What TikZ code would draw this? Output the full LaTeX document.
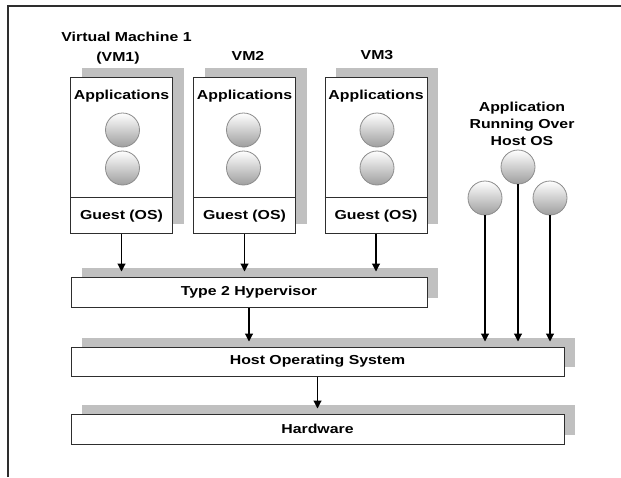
\documentclass[tikz,border=0pt]{standalone}
\usepackage{fontspec}
\setmainfont{Liberation Sans}[FakeStretch=1.22]
\usepackage{tikz}
\usetikzlibrary{arrows.meta,shadows,positioning,calc}
\definecolor{shadowgray}{HTML}{C0C0C0}
\definecolor{boxline}{HTML}{2E2E2E}

\begin{document}
\begin{tikzpicture}[x=1pt,y=-1pt,
lbl/.style={font=\fontsize{13}{17}\selectfont\bfseries, inner sep=0pt, align=center},
layer/.style={draw=boxline, line width=1pt, fill=white, inner sep=0pt,
  drop shadow={shadow xshift=11pt, shadow yshift=9pt, fill=shadowgray, opacity=1}},
vmbox/.style={layer, minimum width=102pt, minimum height=156pt},
ball/.style={circle, minimum size=34pt, inner sep=0pt, draw=black!45, line width=0.8pt,
  top color=white, bottom color=black!38},
arr/.style={line width=1.1pt, -{Triangle[width=8pt,length=8pt]}, shorten >=5pt}]
\useasboundingbox (0,0) rectangle (621,477);
\draw[line width=1.3pt, boxline] (8,477) -- (8,6) -- (621,6);
% virtual machines
\node[lbl] (vmname) at (126.5,37) {Virtual Machine 1};
\node[lbl] (vm1lbl) at (118,58) {(VM1)};
\node[lbl] (vm2lbl) at (248,56) {VM2};
\node[lbl] (vm3lbl) at (377,55) {VM3};
\node[vmbox] (vm1) at (121.5,155) {};
\node[vmbox] (vm2) at (244.5,155) {};
\node[vmbox] (vm3) at (376,155) {};
\draw[boxline, line width=1pt] (vm1.west |- 0,197) -- (vm1.east |- 0,197);
\draw[boxline, line width=1pt] (vm2.west |- 0,197) -- (vm2.east |- 0,197);
\draw[boxline, line width=1pt] (vm3.west |- 0,197) -- (vm3.east |- 0,197);
\node[lbl] (apps1) at (121.5,96) {Applications};
\node[lbl] (apps2) at (244.5,96) {Applications};
\node[lbl] (apps3) at (376,96) {Applications};
\node[ball] (b1a) at (122.5,130) {};
\node[ball] (b1b) at (122.5,168) {};
\node[ball] (b2a) at (243.5,130) {};
\node[ball] (b2b) at (243.5,168) {};
\node[ball] (b3a) at (377,130) {};
\node[ball] (b3b) at (377,168) {};
\node[lbl] (guest1) at (121.5,216) {Guest (OS)};
\node[lbl] (guest2) at (244.5,216) {Guest (OS)};
\node[lbl] (guest3) at (376,216) {Guest (OS)};
% host applications
\node[lbl] (hostapp) at (522,124) {Application\\Running Over\\Host OS};
\node[ball] (h1) at (485,198) {};
\node[ball] (h2) at (518,167) {};
\node[ball] (h3) at (550,198) {};
% layers
\node[layer, minimum width=356pt, minimum height=30pt, lbl] (hyp) at (249,292) {Type 2 Hypervisor};
\node[layer, minimum width=493pt, minimum height=29pt, lbl] (host) at (317.5,361.5) {Host Operating System};
\node[layer, minimum width=493pt, minimum height=30pt, lbl] (hw) at (317.5,429) {Hardware};
\draw[arr] (vm1.south) -- (vm1.south |- hyp.north);
\draw[arr] (vm2.south) -- (vm2.south |- hyp.north);
\draw[arr] (vm3.south) -- (vm3.south |- hyp.north);
\draw[arr] (hyp.south) -- (hyp.south |- host.north);
\draw[arr] (h1.south) -- (h1.south |- host.north);
\draw[arr] (h2.south) -- (h2.south |- host.north);
\draw[arr] (h3.south) -- (h3.south |- host.north);
\draw[arr] (host.south) -- (hw.north);
\end{tikzpicture}
\end{document}
